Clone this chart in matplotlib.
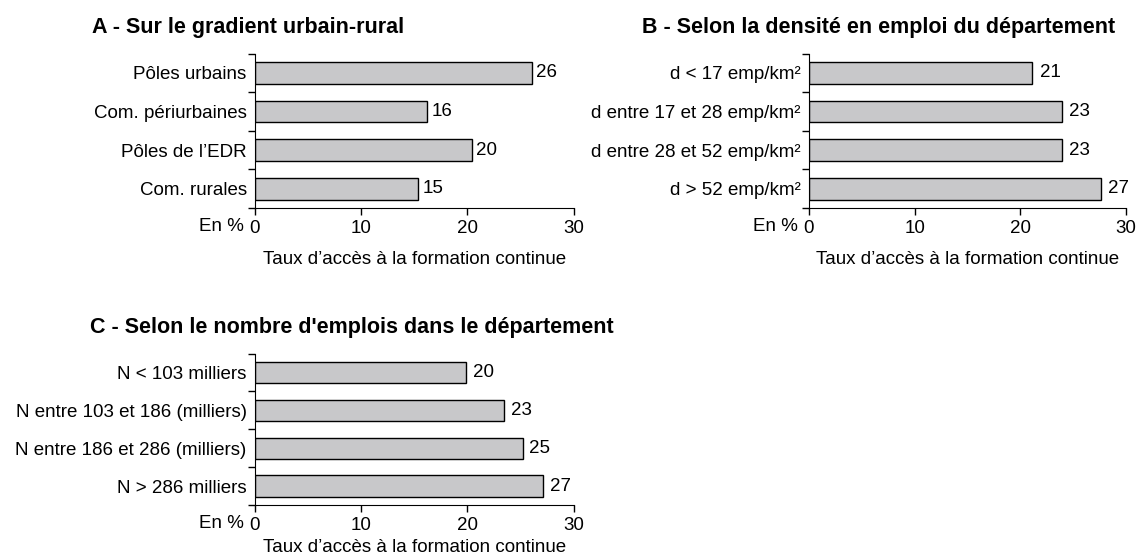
import matplotlib.pyplot as plt
import numpy as np

plt.rcParams['font.family'] = ['Liberation Sans', 'DejaVu Sans']

# panel A
cat_a = ["Pôles urbains", "Com. périurbaines", "Pôles de l’EDR", "Com. rurales"]
val_a = [26.1, 16.2, 20.4, 15.4]
lab_a = ["26", "16", "20", "15"]

# panel B
cat_b = ["d < 17 emp/km²", "d entre 17 et 28 emp/km²", "d entre 28 et 52 emp/km²", "d > 52 emp/km²"]
val_b = [21.1, 23.9, 23.9, 27.6]
lab_b = ["21", "23", "23", "27"]

# panel C
cat_c = ["N < 103 milliers", "N entre 103 et 186 (milliers)", "N entre 186 et 286 (milliers)", "N > 286 milliers"]
val_c = [19.9, 23.5, 25.2, 27.1]
lab_c = ["20", "23", "25", "27"]

titles = ["A - Sur le gradient urbain-rural",
          "B - Selon la densité en emploi du département",
          "C - Selon le nombre d'emplois dans le département"]
xticks = [0, 10, 20, 30]
xlab = "Taux d’accès à la formation continue"

fs = 13.5
W = 1147
fig = plt.figure(figsize=(11.47, 5.58), dpi=100)


def panel(rect, cats, vals, labs, title, pad, title_dx, lpad=10):
    ax = fig.add_axes(rect)
    y = np.arange(len(cats))
    bars = ax.barh(y, vals, height=0.56, color='#c8c8ca', edgecolor='black', linewidth=1)
    ax.bar_label(bars, labels=labs, padding=pad, fontsize=fs)
    ax.set_xlim(0, 30)
    ax.set_ylim(len(cats) - 0.5, -0.5)
    ax.set_yticks(y)
    ax.set_yticklabels(cats, fontsize=fs)
    ax.set_yticks(np.arange(len(cats) + 1) - 0.5, minor=True)
    ax.tick_params(axis='y', which='major', length=0, pad=6)
    ax.tick_params(axis='y', which='minor', length=5, width=1)
    ax.set_xticks(xticks)
    ax.set_xticklabels([str(t) for t in xticks], fontsize=fs)
    ax.tick_params(axis='x', length=5, width=1, pad=3.5)
    ax.spines['top'].set_visible(False)
    ax.spines['right'].set_visible(False)
    ax.set_xlabel(xlab, fontsize=fs, labelpad=lpad)
    ax.annotate("En %", xy=(0, 0), xycoords='axes fraction', xytext=(-8, -7.1),
                textcoords='offset points', ha='right', va='top', fontsize=fs)
    ax.set_title(title, fontsize=15.5, fontweight='bold', loc='left', pad=15,
                 x=title_dx / (rect[2] * W))
    return ax


panel([0.2223, 0.6272, 0.2777, 0.2767], cat_a, val_a, lab_a, titles[0], 3, -163)
panel([0.7053, 0.6272, 0.2764, 0.2767], cat_b, val_b, lab_b, titles[1], 5.5, -167)
panel([0.2223, 0.0950, 0.2777, 0.2713], cat_c, val_c, lab_c, titles[2], 5, -165, lpad=4)

fig.savefig("out.png", dpi=100)
